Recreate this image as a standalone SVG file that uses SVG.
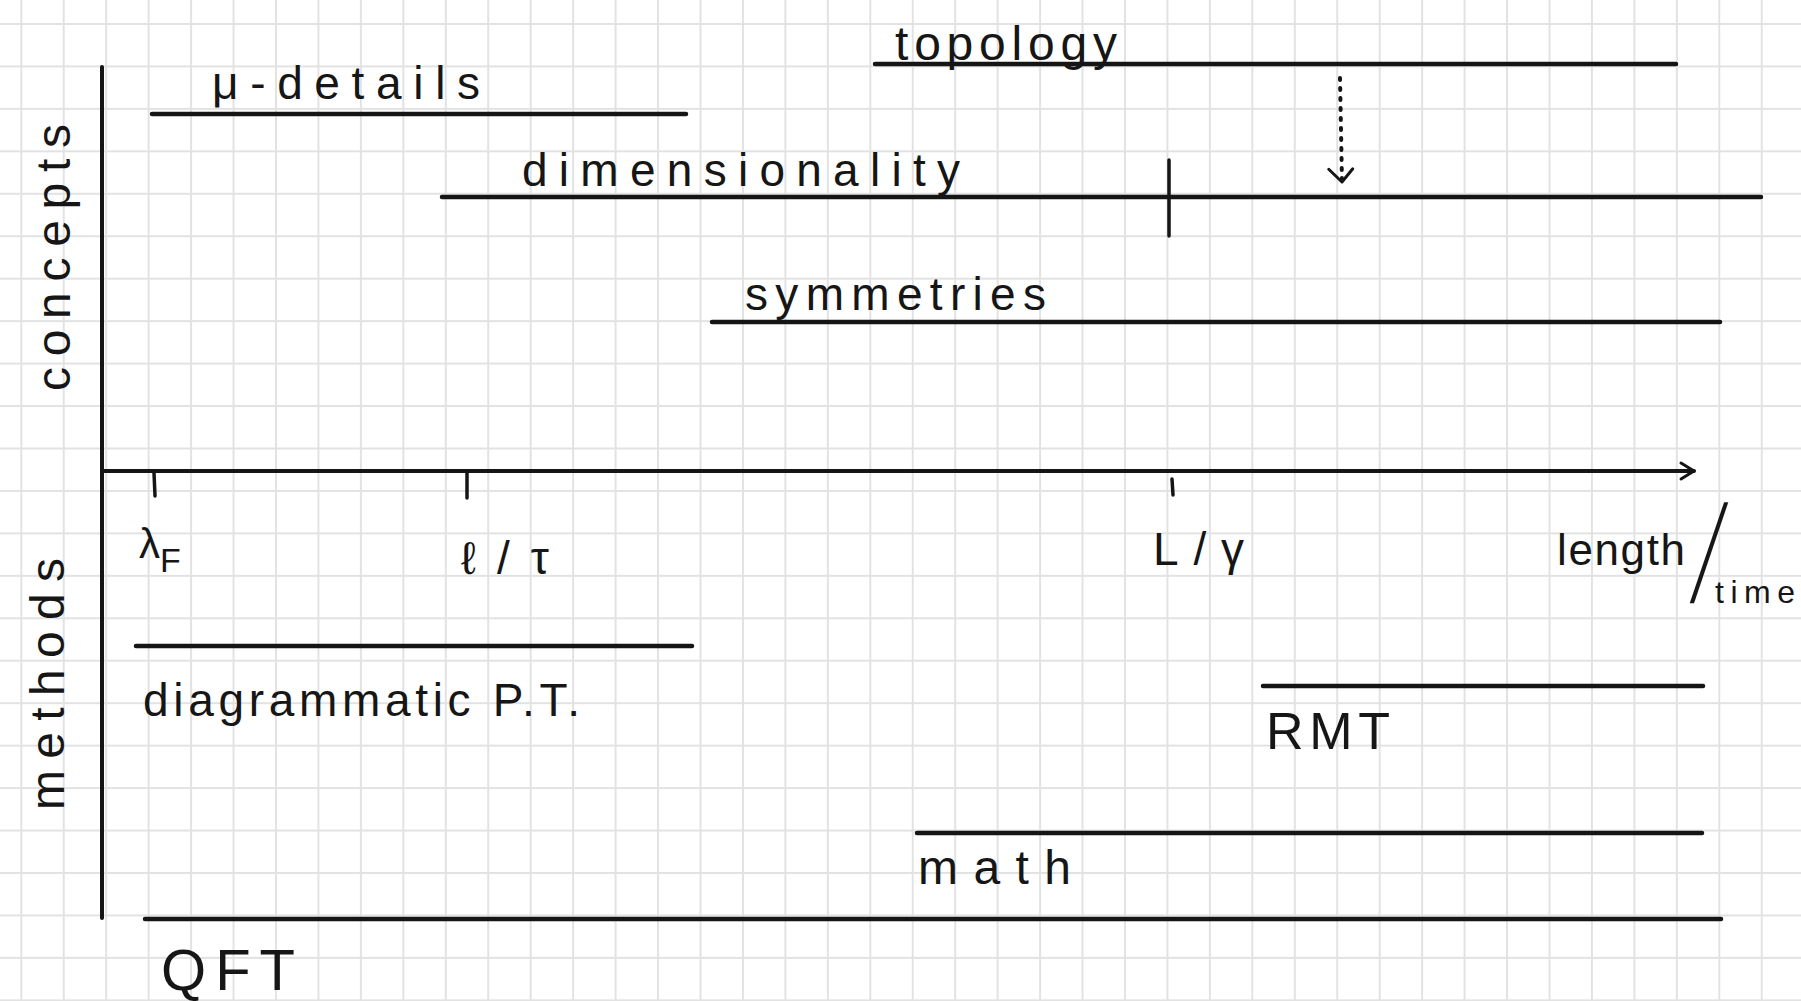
<svg xmlns="http://www.w3.org/2000/svg" width="1801" height="1001" viewBox="0 0 1801 1001">
  <defs>
    <!-- squared paper -->
    <pattern id="grid" x="20.3" y="23" width="42.45" height="42.45" patternUnits="userSpaceOnUse">
      <path d="M0 1H42.45M1 0V42.45" stroke="#e2e2e2" stroke-width="2" fill="none"/>
    </pattern>
    <marker id="axisHead" markerUnits="userSpaceOnUse" markerWidth="20" markerHeight="24" refX="14" refY="9" orient="auto" overflow="visible">
      <polyline points="1,1 14,9 1,17" fill="none" stroke="#151515" stroke-width="3" stroke-linecap="round" stroke-linejoin="round"/>
    </marker>
    <marker id="dropHead" markerUnits="userSpaceOnUse" markerWidth="30" markerHeight="30" refX="14" refY="12" orient="auto" overflow="visible">
      <polyline points="1,1 14,12 1,25" fill="none" stroke="#151515" stroke-width="3" stroke-linecap="round" stroke-linejoin="round"/>
    </marker>
    <style>
      .hand { font-family: "Liberation Sans", "DejaVu Sans", sans-serif; fill: #161616; }
      .bar { stroke: #151515; stroke-width: 4.5; stroke-linecap: round; fill: none; }
      .axis { stroke: #151515; stroke-width: 4; stroke-linecap: round; fill: none; }
      .tick { stroke: #151515; stroke-width: 3.5; stroke-linecap: round; fill: none; }
    </style>
  </defs>

  <rect width="1801" height="1001" fill="#ffffff"/>
  <rect width="1801" height="1001" fill="url(#grid)"/>

  <!-- axes -->
  <g id="axes">
    <line class="axis" x1="102" y1="67" x2="102" y2="918"/>
    <line class="axis" x1="102" y1="471" x2="1694" y2="471" marker-end="url(#axisHead)"/>
    <line class="tick" x1="154" y1="473" x2="155" y2="496"/>
    <line class="tick" x1="467" y1="473" x2="467" y2="498"/>
    <line class="tick" x1="1172" y1="479" x2="1173" y2="495"/>
    <text class="hand" transform="translate(70,391) rotate(-90)" font-size="48" textLength="267" lengthAdjust="spacing">concepts</text>
    <text class="hand" transform="translate(64,810) rotate(-90)" font-size="48" textLength="252" lengthAdjust="spacing">methods</text>
    <text class="hand" x="139" y="558" font-size="42">λ<tspan font-size="34" dy="14">F</tspan></text>
    <text class="hand" x="461" y="574" font-size="46" textLength="88" lengthAdjust="spacing">ℓ/τ</text>
    <text class="hand" x="1153" y="565" font-size="46" textLength="91" lengthAdjust="spacing">L/γ</text>
    <text class="hand" x="1557" y="565" font-size="44" textLength="128" lengthAdjust="spacing">length</text>
    <text class="hand" transform="translate(1690,602) skewX(-13) scale(1,2.5)" font-size="55">/</text>
    <text class="hand" x="1715" y="603" font-size="32" textLength="80" lengthAdjust="spacing">time</text>
  </g>

  <!-- concepts -->
  <g id="mu-details">
    <line class="bar" x1="152" y1="114" x2="686" y2="114"/>
    <text class="hand" x="212" y="99" font-size="46" textLength="268" lengthAdjust="spacing">μ-details</text>
  </g>
  <g id="topology">
    <line class="bar" x1="875" y1="64" x2="1676" y2="64"/>
    <text class="hand" x="895" y="60" font-size="48" textLength="222" lengthAdjust="spacing">topology</text>
  </g>
  <g id="dimensionality">
    <line class="bar" x1="442" y1="197" x2="1761" y2="197"/>
    <line class="tick" x1="1169" y1="160" x2="1169" y2="236"/>
    <text class="hand" x="522" y="186" font-size="46" textLength="438" lengthAdjust="spacing">dimensionality</text>
  </g>
  <g id="symmetries">
    <line class="bar" x1="712" y1="322" x2="1720" y2="322"/>
    <text class="hand" x="745" y="310" font-size="46" textLength="301" lengthAdjust="spacing">symmetries</text>
  </g>

  <!-- methods -->
  <g id="diagrammatic-pt">
    <line class="bar" x1="136" y1="646" x2="692" y2="646"/>
    <text class="hand" x="143" y="716" font-size="46" textLength="437" lengthAdjust="spacing">diagrammatic P.T.</text>
  </g>
  <g id="rmt">
    <line class="bar" x1="1263" y1="686" x2="1703" y2="686"/>
    <text class="hand" x="1266" y="749" font-size="52" textLength="124" lengthAdjust="spacing">RMT</text>
  </g>
  <g id="math">
    <line class="bar" x1="917" y1="833" x2="1702" y2="833"/>
    <text class="hand" x="918" y="884" font-size="48" textLength="153" lengthAdjust="spacing">math</text>
  </g>
  <g id="qft">
    <line class="bar" x1="145" y1="919" x2="1721" y2="919"/>
    <text class="hand" x="161" y="990" font-size="58" textLength="134" lengthAdjust="spacing">QFT</text>
  </g>

  <!-- connectors -->
  <g id="connectors">
    <line x1="1340" y1="78" x2="1342" y2="182" stroke="#151515" stroke-width="4" stroke-linecap="round" stroke-dasharray="2 8" marker-end="url(#dropHead)"/>
  </g>
</svg>
